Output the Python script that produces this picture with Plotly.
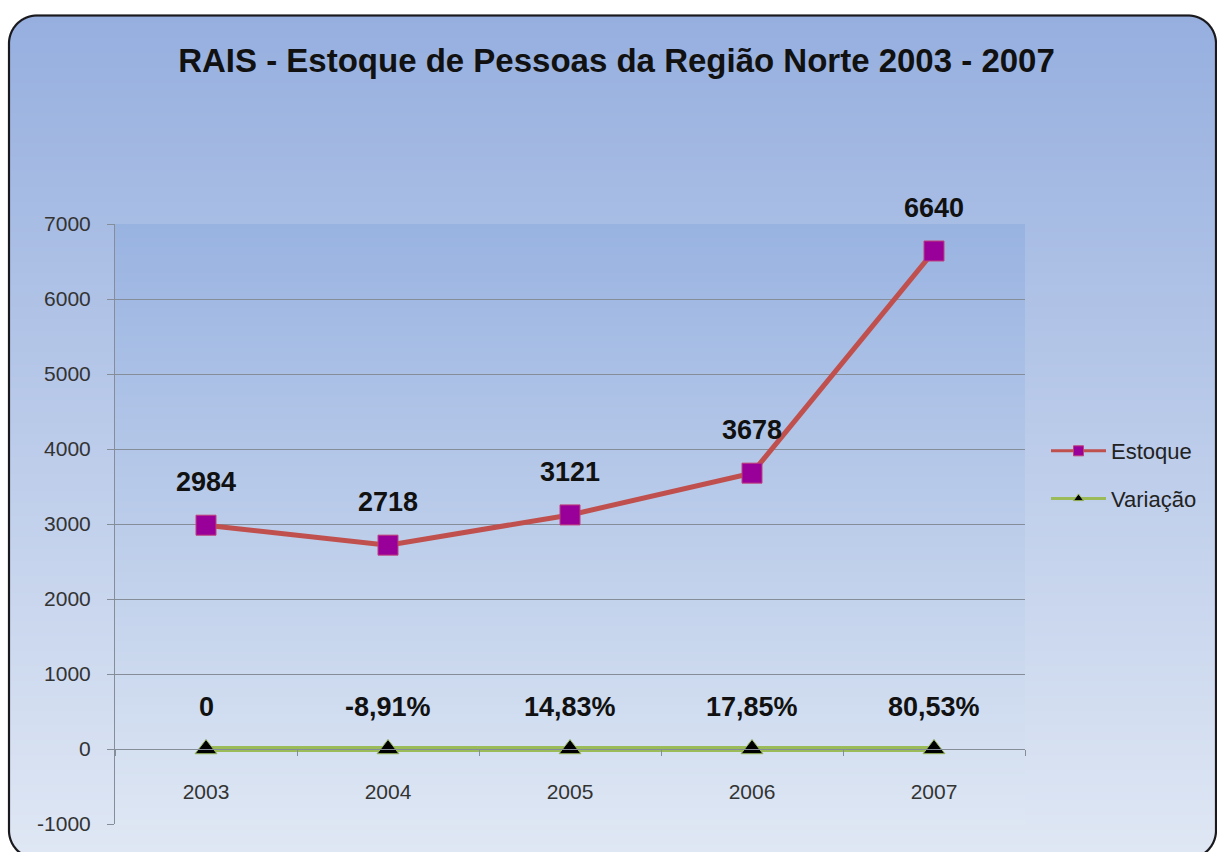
import base64
import struct
import zlib

import numpy as np
import plotly.graph_objects as go

# ---------------- data ----------------
years = ["2003", "2004", "2005", "2006", "2007"]
estoque = [2984, 2718, 3121, 3678, 6640]
variacao_pct = [0.0, -8.91, 14.83, 17.85, 80.53]
variacao_labels = ["0", "-8,91%", "14,83%", "17,85%", "80,53%"]
y_tickvals = [-1000, 0, 1000, 2000, 3000, 4000, 5000, 6000, 7000]

TITLE = "RAIS - Estoque de Pessoas da Região Norte 2003 - 2007"

# ---------------- geometry (pixels) ----------------
W, H = 1217, 852
L, R, T, B = 115, 1025, 224, 824
FONT = "Liberation Sans, Arial, sans-serif"


def px_x(px):
    return (px - L) / (R - L)


def px_y(py):
    return (B - py) / (B - T)


# ---------------- background image (gradients + rounded frame) ----------------
def make_background():
    yy, xx = np.mgrid[0:H, 0:W].astype(float)
    white = np.array([255.0, 255.0, 255.0])
    o_top = np.array([150.0, 175.0, 223.0])
    o_bot = np.array([223.0, 231.0, 244.0])
    p_top = np.array([153.0, 179.0, 225.0])
    p_bot = np.array([221.0, 230.0, 243.0])
    border = np.array([25.0, 25.0, 30.0])

    t = np.clip((yy - 15) / (H - 15), 0, 1)[..., None]
    outer = o_top * (1 - t) + o_bot * t

    x0, y0, x1, y1, r = 8.5, 15.0, 1215.5, 858.0, 28.0
    cx, cy = (x0 + x1) / 2, (y0 + y1) / 2
    hx, hy = (x1 - x0) / 2, (y1 - y0) / 2
    qx = np.abs(xx - cx) - hx + r
    qy = np.abs(yy - cy) - hy + r
    d = (np.sqrt(np.maximum(qx, 0) ** 2 + np.maximum(qy, 0) ** 2)
         + np.minimum(np.maximum(qx, qy), 0) - r)
    inside = np.clip(0.5 - d, 0, 1)[..., None]
    rgb = white * (1 - inside) + outer * inside

    tp = np.clip((yy - T) / (B - T), 0, 1)[..., None]
    plotc = p_top * (1 - tp) + p_bot * tp
    mask = ((xx >= L) & (xx < R) & (yy >= T) & (yy <= B))[..., None]
    rgb = np.where(mask, plotc, rgb)

    a = np.clip(1.6 - np.abs(d), 0, 1)[..., None]
    rgb = rgb * (1 - a) + border * a
    return np.clip(np.round(rgb), 0, 255).astype(np.uint8)


def png_data_uri(arr):
    h, w = arr.shape[:2]
    raw = b"".join(b"\x00" + arr[i].tobytes() for i in range(h))

    def chunk(tag, data):
        c = struct.pack(">I", len(data)) + tag + data
        return c + struct.pack(">I", zlib.crc32(tag + data) & 0xFFFFFFFF)

    png = (b"\x89PNG\r\n\x1a\n"
           + chunk(b"IHDR", struct.pack(">IIBBBBB", w, h, 8, 2, 0, 0, 0))
           + chunk(b"IDAT", zlib.compress(raw, 9))
           + chunk(b"IEND", b""))
    return "data:image/png;base64," + base64.b64encode(png).decode()


bg_uri = png_data_uri(make_background())

# ---------------- figure ----------------
RED = "#c0504d"
PURPLE = "#990099"
GREEN = "#9bbb59"

variacao_y = [v / 100.0 for v in variacao_pct]

fig = go.Figure()

fig.add_trace(go.Scatter(
    x=years, y=estoque, mode="lines+markers", name="Estoque",
    line=dict(color=RED, width=5),
    marker=dict(symbol="square", size=20, color=PURPLE,
                line=dict(color="#c0407a", width=1)),
    showlegend=False, hoverinfo="skip",
))
fig.add_trace(go.Scatter(
    x=years, y=variacao_y, mode="lines+markers", name="Variação",
    line=dict(color=GREEN, width=6),
    marker=dict(symbol="triangle-up", size=19, color="#000000",
                line=dict(color=GREEN, width=1)),
    showlegend=False, hoverinfo="skip",
))
# legend entries (smaller symbols, like the original legend)
fig.add_trace(go.Scatter(
    x=[years[0]], y=[None], mode="lines+markers", name="Estoque",
    legendgroup="a", hoverinfo="skip",
    line=dict(color=RED, width=3),
    marker=dict(symbol="square", size=10, color=PURPLE,
                line=dict(color="#c0407a", width=1)),
))
fig.add_trace(go.Scatter(
    x=[years[0]], y=[None], mode="lines+markers", name="Variação",
    legendgroup="b", hoverinfo="skip",
    line=dict(color=GREEN, width=3),
    marker=dict(symbol="triangle-up", size=9, color="#000000",
                line=dict(color=GREEN, width=1)),
))

annotations = []
for i, yi in enumerate(estoque):
    annotations.append(dict(
        x=i, y=yi, xref="x", yref="y", text=str(yi), showarrow=False,
        yshift=43, yanchor="middle",
        font=dict(family=FONT, size=27, color="#111111", weight="bold"),
    ))
for i, (yi, lab) in enumerate(zip(variacao_y, variacao_labels)):
    annotations.append(dict(
        x=i, y=yi, xref="x", yref="y", text=lab, showarrow=False,
        yshift=42, yanchor="middle",
        font=dict(family=FONT, size=27, color="#111111", weight="bold"),
    ))

fig.update_layout(
    width=W, height=H, autosize=False,
    margin=dict(l=L, r=W - R, t=T, b=H - B, pad=0),
    paper_bgcolor="white",
    plot_bgcolor="rgba(0,0,0,0)",
    font=dict(family=FONT, color="#333333"),
    title=dict(
        text=TITLE, x=px_x(616.5), xref="paper", xanchor="center",
        y=1 - 60 / H, yref="container", yanchor="middle",
        font=dict(family=FONT, size=33, color="#111111", weight="bold"),
    ),
    images=[dict(
        source=bg_uri, xref="paper", yref="paper",
        x=px_x(0), y=px_y(0), sizex=W / (R - L), sizey=H / (B - T),
        xanchor="left", yanchor="top", sizing="stretch", layer="below",
    )],
    legend=dict(
        x=px_x(1046), y=px_y(430), xanchor="left", yanchor="top",
        bgcolor="rgba(0,0,0,0)", borderwidth=0,
        font=dict(family=FONT, size=22, color="#222222"),
        itemwidth=55, tracegroupgap=16, traceorder="grouped",
    ),
    annotations=annotations,
    showlegend=True,
)

fig.update_yaxes(
    range=[-1000, 7000], tickvals=y_tickvals, ticktext=[str(v) for v in y_tickvals],
    showgrid=True, gridcolor="#858d99", gridwidth=1,
    showline=True, linecolor="#858d99", linewidth=1,
    ticks="outside", ticklen=7, tickcolor="#858d99",
    zeroline=False, ticklabelstandoff=12,
    tickfont=dict(family=FONT, size=21, color="#333333"),
    fixedrange=True,
)
fig.update_xaxes(
    type="category", categoryarray=years, categoryorder="array",
    range=[-0.5, len(years) - 0.5], autorange=False,
    anchor="free", position=(0 - (-1000)) / 8000,
    showgrid=False, showline=True, linecolor="#858d99", linewidth=1,
    ticks="outside", tickson="boundaries", ticklen=6, tickcolor="#858d99",
    zeroline=False, ticklabelstandoff=24, tickangle=0,
    tickfont=dict(family=FONT, size=21, color="#333333"),
    fixedrange=True,
)

fig.write_html(
    "out.html",
    config={"displayModeBar": False},
    post_script="document.body.style.margin='0';document.body.style.overflow='hidden';",
)
